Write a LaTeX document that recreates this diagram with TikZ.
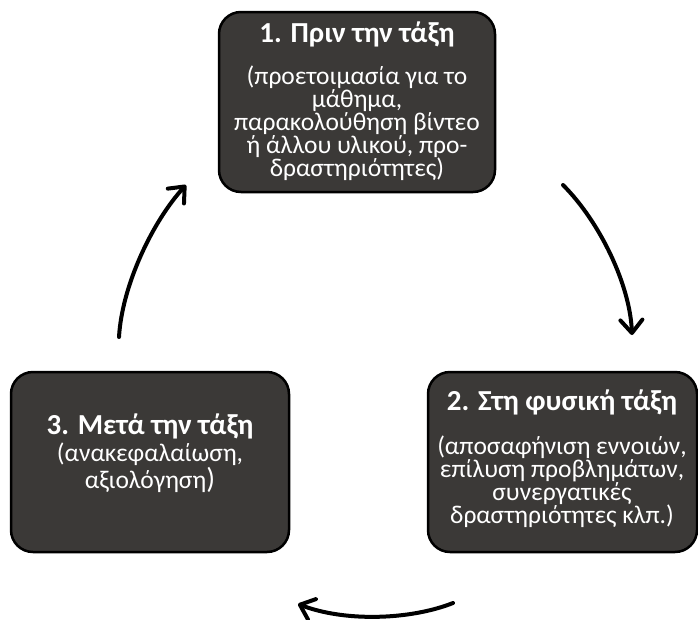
\documentclass[tikz,border=0pt]{standalone}
\usepackage{fontspec}
\setmainfont{Carlito}
\usetikzlibrary{arrows.meta}
\definecolor{boxfill}{RGB}{59,57,55}
\begin{document}
\begin{tikzpicture}[x=1pt,y=-1pt,
  stage/.style={draw=black, line width=2.5pt, fill=boxfill, rounded corners=22pt,
    inner sep=0pt, minimum height=180pt, minimum width=#1},
  stage/.default=276pt,
  stagetitle/.style={text=white, inner sep=0pt, anchor=base,
    font=\fontsize{29}{32}\selectfont\bfseries},
  stagebody/.style={text=white, inner sep=0pt, anchor=north, align=center,
    font=\fontsize{25.5}{22.9}\selectfont},
  flow/.style={line width=4pt, line cap=round,
    -{Straight Barb[length=13pt,width=22pt,line cap=round,line join=round]}},
]
\useasboundingbox (0,0) rectangle (698,619);

% the three stages
\node[stage=276pt] (b1) at (357,102) {};
\node[stage=269pt] (b2) at (562.5,462) {};
\node[stage=278pt] (b3) at (150,462) {};

\node[stagetitle] (t1) at (357,42) {1. Πριν την τάξη};
\node[stagebody] (d1) at (357,66) {(προετοιμασία για το\\μάθημα,\\παρακολούθηση βίντεο\\ή άλλου υλικού, προ-\\δραστηριότητες)};

\node[stagetitle] (t2) at (562,410) {2. Στη φυσική τάξη};
\node[stagebody] (d2) at (562,436) {(αποσαφήνιση εννοιών,\\επίλυση προβλημάτων,\\συνεργατικές\\δραστηριότητες κλπ.)};

\node[stagetitle] (t3) at (150,434) {3. Μετά την τάξη};
\node[stagebody] (d3) at (150,443) {(ανακεφαλαίωση,\\αξιολόγηση{\fontsize{29}{22.9}\selectfont)}};

% arrow end points between the stages
\coordinate (a1s) at (563,185);
\coordinate (a1e) at (632,335);
\coordinate (a2s) at (453,603);
\coordinate (a2e) at (298,604);
\coordinate (a3s) at (119,337);
\coordinate (a3e) at (186,185);

\draw[flow] (a1s) .. controls (600,222) and (630,285) .. (a1e);
\draw[flow] (a2s) .. controls (410,620) and (345,622) .. (a2e);
\draw[flow] (a3s) .. controls (122,285) and (153,221) .. (a3e);
\end{tikzpicture}
\end{document}
